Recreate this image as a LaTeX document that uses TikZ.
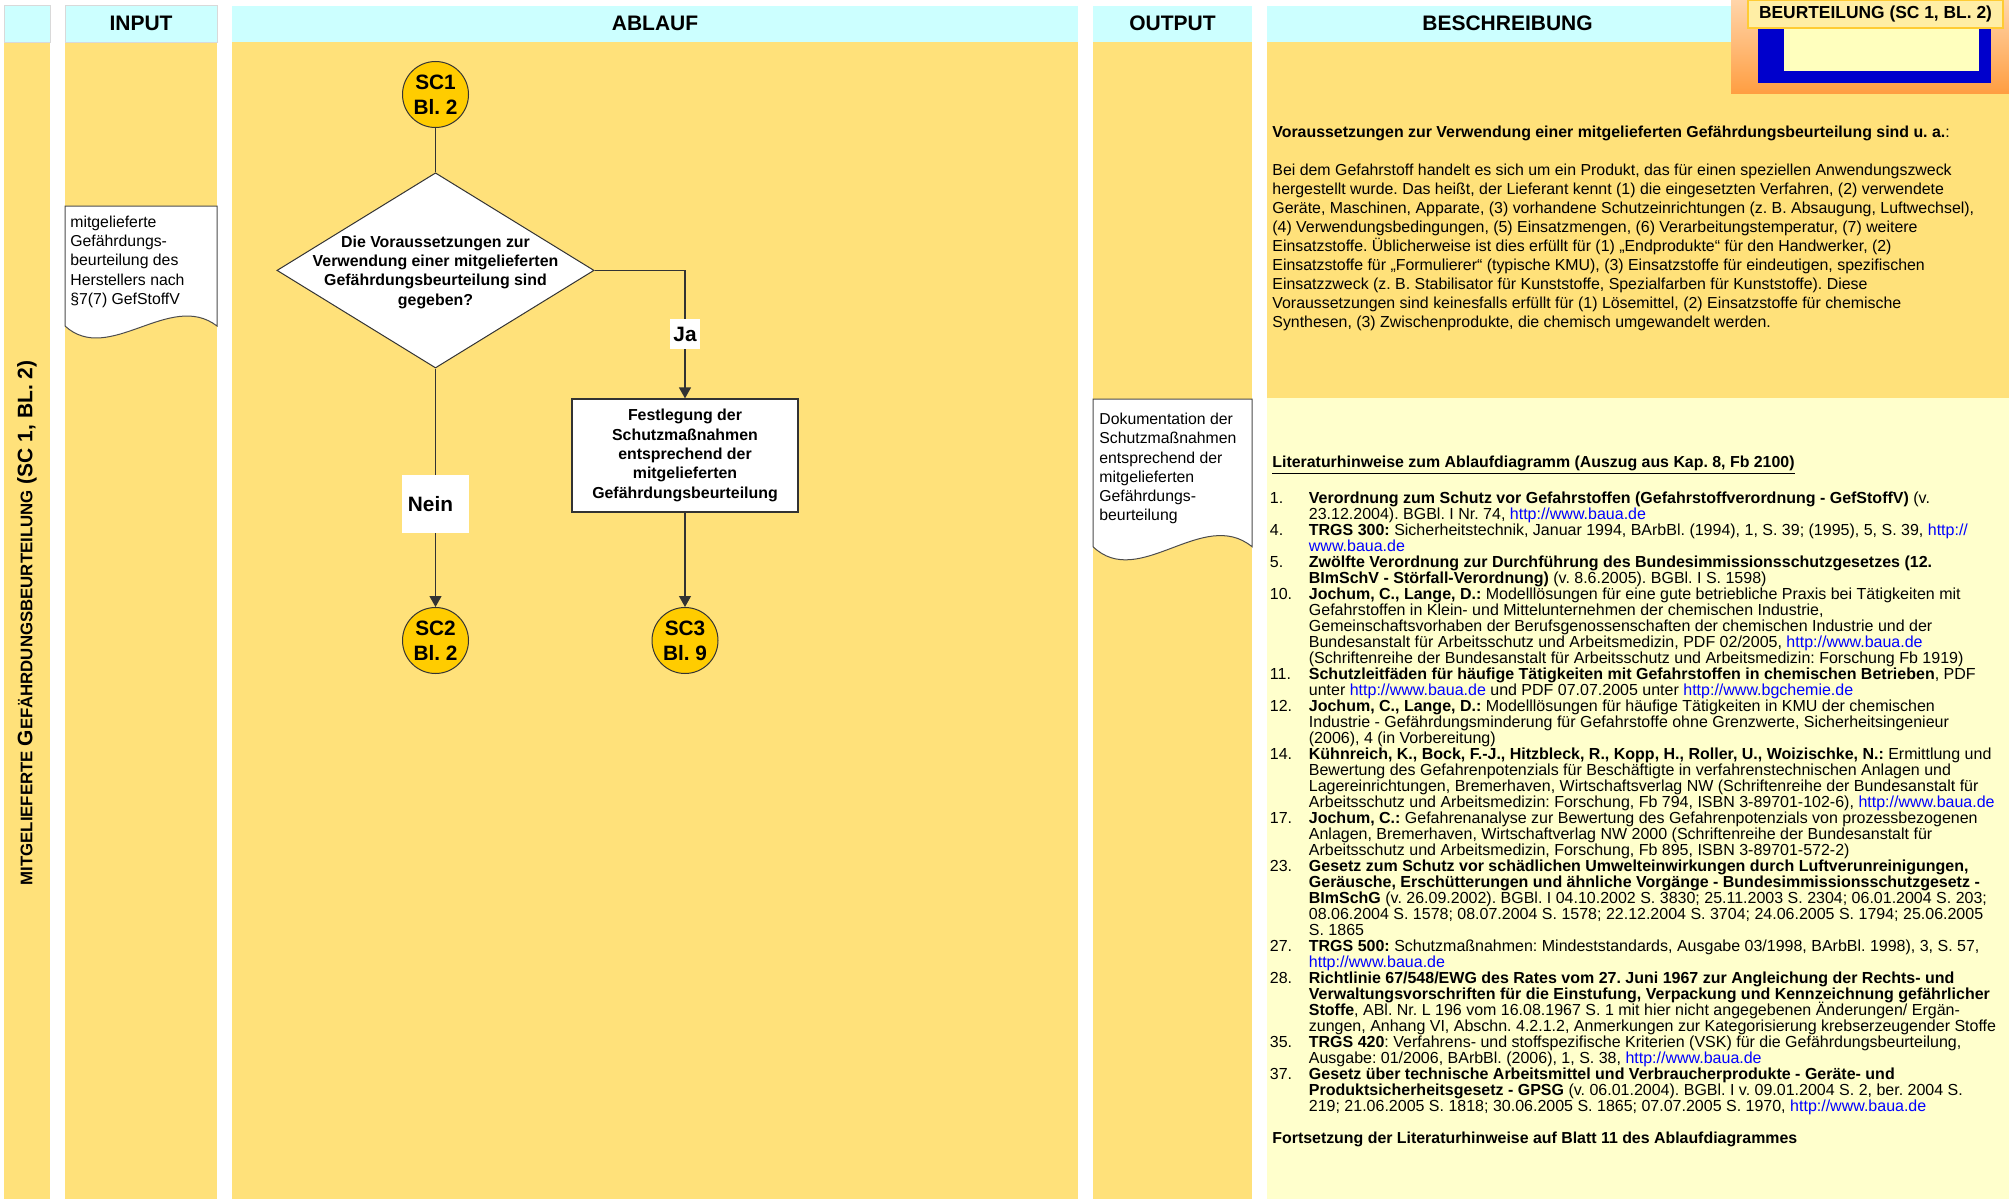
\documentclass[tikz,border=0pt]{standalone}
\usepackage{fontspec}
\setmainfont{Liberation Sans}
\usetikzlibrary{shapes.geometric,arrows.meta}
\frenchspacing
\definecolor{colY}{RGB}{255,225,122}
\definecolor{colHead}{RGB}{204,255,255}
\definecolor{colLight}{RGB}{255,255,204}
\definecolor{colCirc}{RGB}{255,204,0}
\definecolor{colLink}{RGB}{0,0,255}
\definecolor{colBlue}{RGB}{0,0,204}
\definecolor{colLabel}{RGB}{255,238,165}
\definecolor{colLabelBorder}{RGB}{255,204,51}
\definecolor{colInner}{RGB}{255,255,190}
\definecolor{colOrTop}{RGB}{255,213,170}
\definecolor{colOrBot}{RGB}{255,158,66}
\newcommand{\lnk}[1]{\textcolor{colLink}{#1}}
\newcommand{\litnum}[1]{\makebox[19.5pt][l]{#1}}
\newcommand{\litind}{\makebox[19.5pt][l]{}}
\newcommand{\litfont}{\fontsize{8}{8}\selectfont\frenchspacing\lineskiplimit=-20pt\relax}
\newcommand{\descfont}{\fontsize{7.95}{9.55}\selectfont\frenchspacing\lineskiplimit=-20pt\relax}
\newcommand{\docfont}{\fontsize{7.9}{9.65}\selectfont\frenchspacing\lineskiplimit=-20pt\relax}
\newcommand{\smcap}[1]{{\fontsize{8.4}{10}\selectfont #1}}
\begin{document}
\begin{tikzpicture}[x=0.5pt,y=-0.5pt,
  headtext/.style={inner sep=0pt, font=\bfseries\fontsize{10.5}{12}\selectfont},
  conn/.style={circle, fill=colCirc, draw=black!80, line width=0.5pt, minimum size=33pt, inner sep=0pt, align=center, font=\bfseries\fontsize{10.4}{12.5}\selectfont},
  decision/.style={diamond, fill=white, draw=black!80, line width=0.5pt, minimum width=158.6pt, minimum height=97.6pt, inner sep=0pt},
  process/.style={rectangle, fill=white, draw=black!80, line width=0.6pt, minimum width=113pt, minimum height=56.5pt, inner sep=0pt, align=center, font=\bfseries\fontsize{7.95}{9.7}\selectfont},
  flowtext/.style={align=center, inner sep=0pt, font=\bfseries\fontsize{7.95}{9.65}\selectfont},
  doctext/.style={align=left, inner sep=0pt, font=\docfont},
  docshape/.style={fill=white, draw=black!70, line width=0.5pt},
  flowline/.style={draw=black!80, line width=0.6pt},
  flowarrow/.style={flowline, -{Triangle[width=6pt,length=5.5pt]}},
  edgelabel/.style={fill=white, inner sep=0pt, font=\bfseries\fontsize{10.4}{12}\selectfont},
  sheetlabel/.style={fill=colLabel, draw=colLabelBorder, line width=0.6pt, minimum width=127.5pt, minimum height=14pt, inner sep=0pt, font=\bfseries\fontsize{8.7}{10}\selectfont},
  desctext/.style={align=left, inner sep=0pt, font=\descfont},
  littext/.style={align=left, inner sep=0pt, font=\litfont}
]
\useasboundingbox (0,0) rectangle (2009,1199);
\fill[white] (0,0) rectangle (2009,1199);
% lanes
\fill[colY] (4,42) rectangle (50,1199);
\fill[colY] (65,42) rectangle (217,1199);
\fill[colY] (232,42) rectangle (1078,1199);
\fill[colY] (1093,42) rectangle (1252,1199);
\fill[colY] (1267,42) rectangle (2009,398);
\fill[colLight] (1267,398) rectangle (2009,1199);
% header band
\path[fill=colHead, draw=black!15, line width=0.5pt] (4,5.5) rectangle (50,42);
\path[fill=colHead, draw=black!15, line width=0.5pt] (65,5.5) rectangle (217,42);
\fill[colHead] (232,5.5) rectangle (1078,42);
\fill[colHead] (1093,5.5) rectangle (1252,42);
\fill[colHead] (1267,5.5) rectangle (2009,42);
\node[headtext] (hIn) at (141,23.7) {INPUT};
\node[headtext] (hAb) at (655,23.7) {ABLAUF};
\node[headtext] (hOut) at (1172.5,23.7) {OUTPUT};
\node[headtext] (hBes) at (1507.5,23.7) {BESCHREIBUNG};
% sheet marker top right
\shade[top color=colOrTop, bottom color=colOrBot] (1731,0) rectangle (2009,93);
\fill[colBlue] (1758,20) rectangle (1991,83);
\fill[colInner] (1784,20) rectangle (1979,71);
\node[sheetlabel] (sheet) at (1875.5,14) {BEURTEILUNG (SC 1, BL. 2)};
% side label
\node[rotate=90, inner sep=0pt, font=\bfseries\fontsize{10.5}{12}\selectfont] (side) at (27,623)
  {\smcap{MITGELIEFERTE }G\smcap{EFÄHRDUNGSBEURTEILUNG} (SC 1, BL. 2)};
% input document
\draw[docshape] (65,206) -- (217,206) -- (217,326) .. controls (170,290) and (109,366) .. (65,326) -- cycle;
\node[doctext, anchor=north west] (inp) at (70,213.3)
  {\strut mitgelieferte\\Gefährdungs-\\beurteilung des\\Herstellers nach\\§7(7) GefStoffV};
% output document
\draw[docshape] (1093,399) -- (1252,399) -- (1252,546.7) .. controls (1203,506.7) and (1139,590.7) .. (1093,546.7) -- cycle;
\node[doctext, anchor=north west] (outp) at (1099,410.5)
  {\strut Dokumentation der\\Schutzmaßnahmen\\entsprechend der\\mitgelieferten\\Gefährdungs-\\beurteilung};
% flow chart
\node[conn] (sc1) at (435.5,94.5) {SC1\\Bl. 2};
\node[decision] (dec) at (435.5,270.4) {};
\node[flowtext] (dectext) at (435.5,272) {Die Voraussetzungen zur\\Verwendung einer mitgelieferten\\Gefährdungsbeurteilung sind\\gegeben?};
\node[process] (fest) at (685,455.5) {Festlegung der\\Schutzmaßnahmen\\entsprechend der\\mitgelieferten\\Gefährdungsbeurteilung};
\node[conn] (sc2) at (435.5,640.5) {SC2\\Bl. 2};
\node[conn] (sc3) at (685,640.5) {SC3\\Bl. 9};
\draw[flowline] (sc1) -- (dec);
\draw[flowarrow] (dec.east) -| node[edgelabel, pos=0.75, minimum width=15pt, minimum height=15pt] (ja) {Ja} (fest.north);
\draw[flowarrow] (dec.south) -- node[edgelabel, pos=0.568, minimum width=33.5pt, minimum height=29pt] (nein) {Nein\hspace*{5pt}} (sc2.north);
\draw[flowarrow] (fest.south) -- (sc3.north);
% description
\node[anchor=base west, inner sep=0pt, font=\descfont] (dhead) at (1272,137.7)
  {\textbf{Voraussetzungen zur Verwendung einer mitgelieferten Gefährdungsbeurteilung sind u. a.}:};
\node[desctext, anchor=north west] (dbody) at (1272,161.3)
  {\strut Bei dem Gefahrstoff handelt es sich um ein Produkt, das für einen speziellen Anwendungszweck\\
   hergestellt wurde. Das heißt, der Lieferant kennt (1) die eingesetzten Verfahren, (2) verwendete\\
   Geräte, Maschinen, Apparate, (3) vorhandene Schutzeinrichtungen (z. B. Absaugung, Luftwechsel),\\
   (4) Verwendungsbedingungen, (5) Einsatzmengen, (6) Verarbeitungstemperatur, (7) weitere\\
   Einsatzstoffe. Üblicherweise ist dies erfüllt für (1) „Endprodukte“ für den Handwerker, (2)\\
   Einsatzstoffe für „Formulierer“ (typische KMU), (3) Einsatzstoffe für eindeutigen, spezifischen\\
   Einsatzzweck (z. B. Stabilisator für Kunststoffe, Spezialfarben für Kunststoffe). Diese\\
   Voraussetzungen sind keinesfalls erfüllt für (1) Lösemittel, (2) Einsatzstoffe für chemische\\
   Synthesen, (3) Zwischenprodukte, die chemisch umgewandelt werden.};
\node[anchor=base west, inner sep=0pt, font=\descfont] (lhead) at (1272,467.2)
  {\textbf{\underline{Literaturhinweise zum Ablaufdiagramm (Auszug aus Kap. 8, Fb 2100)}}};
\node[littext, anchor=north west] (lit) at (1269.5,491.2)
  {\strut\litnum{1.}\textbf{Verordnung zum Schutz vor Gefahrstoffen (Gefahrstoffverordnung - GefStoffV)} (v.\\
   \litind 23.12.2004). BGBl. I Nr. 74, \lnk{http://www.baua.de}\\
   \litnum{4.}\textbf{TRGS 300:} Sicherheitstechnik, Januar 1994, BArbBl. (1994), 1, S. 39; (1995), 5, S. 39, \lnk{http://}\\
   \litind\lnk{www.baua.de}\\
   \litnum{5.}\textbf{Zwölfte Verordnung zur Durchführung des Bundesimmissionsschutzgesetzes (12.}\\
   \litind\textbf{BImSchV - Störfall-Verordnung)} (v. 8.6.2005). BGBl. I S. 1598)\\
   \litnum{10.}\textbf{Jochum, C., Lange, D.:} Modelllösungen für eine gute betriebliche Praxis bei Tätigkeiten mit\\
   \litind Gefahrstoffen in Klein- und Mittelunternehmen der chemischen Industrie,\\
   \litind Gemeinschaftsvorhaben der Berufsgenossenschaften der chemischen Industrie und der\\
   \litind Bundesanstalt für Arbeitsschutz und Arbeitsmedizin, PDF 02/2005, \lnk{http://www.baua.de}\\
   \litind (Schriftenreihe der Bundesanstalt für Arbeitsschutz und Arbeitsmedizin: Forschung Fb 1919)\\
   \litnum{11.}\textbf{Schutzleitfäden für häufige Tätigkeiten mit Gefahrstoffen in chemischen Betrieben}, PDF\\
   \litind unter \lnk{http://www.baua.de} und PDF 07.07.2005 unter \lnk{http://www.bgchemie.de}\\
   \litnum{12.}\textbf{Jochum, C., Lange, D.:} Modelllösungen für häufige Tätigkeiten in KMU der chemischen\\
   \litind Industrie - Gefährdungsminderung für Gefahrstoffe ohne Grenzwerte, Sicherheitsingenieur\\
   \litind (2006), 4 (in Vorbereitung)\\
   \litnum{14.}\textbf{Kühnreich, K., Bock, F.-J., Hitzbleck, R., Kopp, H., Roller, U., Woizischke, N.:} Ermittlung und\\
   \litind Bewertung des Gefahrenpotenzials für Beschäftigte in verfahrenstechnischen Anlagen und\\
   \litind Lagereinrichtungen, Bremerhaven, Wirtschaftsverlag NW (Schriftenreihe der Bundesanstalt für\\
   \litind Arbeitsschutz und Arbeitsmedizin: Forschung, Fb 794, ISBN 3-89701-102-6), \lnk{http://www.baua.de}\\
   \litnum{17.}\textbf{Jochum, C.:} Gefahrenanalyse zur Bewertung des Gefahrenpotenzials von prozessbezogenen\\
   \litind Anlagen, Bremerhaven, Wirtschaftverlag NW 2000 (Schriftenreihe der Bundesanstalt für\\
   \litind Arbeitsschutz und Arbeitsmedizin, Forschung, Fb 895, ISBN 3-89701-572-2)\\
   \litnum{23.}\textbf{Gesetz zum Schutz vor schädlichen Umwelteinwirkungen durch Luftverunreinigungen,}\\
   \litind\textbf{Geräusche, Erschütterungen und ähnliche Vorgänge - Bundesimmissionsschutzgesetz -}\\
   \litind\textbf{BImSchG} (v. 26.09.2002). BGBl. I 04.10.2002 S. 3830; 25.11.2003 S. 2304; 06.01.2004 S. 203;\\
   \litind 08.06.2004 S. 1578; 08.07.2004 S. 1578; 22.12.2004 S. 3704; 24.06.2005 S. 1794; 25.06.2005\\
   \litind S. 1865\\
   \litnum{27.}\textbf{TRGS 500:} Schutzmaßnahmen: Mindeststandards, Ausgabe 03/1998, BArbBl. 1998), 3, S. 57,\\
   \litind\lnk{http://www.baua.de}\\
   \litnum{28.}\textbf{Richtlinie 67/548/EWG des Rates vom 27. Juni 1967 zur Angleichung der Rechts- und}\\
   \litind\textbf{Verwaltungsvorschriften für die Einstufung, Verpackung und Kennzeichnung gefährlicher}\\
   \litind\textbf{Stoffe}, ABl. Nr. L 196 vom 16.08.1967 S. 1 mit hier nicht angegebenen Änderungen/ Ergän-\\
   \litind zungen, Anhang VI, Abschn. 4.2.1.2, Anmerkungen zur Kategorisierung krebserzeugender Stoffe\\
   \litnum{35.}\textbf{TRGS 420}: Verfahrens- und stoffspezifische Kriterien (VSK) für die Gefährdungsbeurteilung,\\
   \litind Ausgabe: 01/2006, BArbBl. (2006), 1, S. 38, \lnk{http://www.baua.de}\\
   \litnum{37.}\textbf{Gesetz über technische Arbeitsmittel und Verbraucherprodukte - Geräte- und}\\
   \litind\textbf{Produktsicherheitsgesetz - GPSG} (v. 06.01.2004). BGBl. I v. 09.01.2004 S. 2, ber. 2004 S.\\
   \litind 219; 21.06.2005 S. 1818; 30.06.2005 S. 1865; 07.07.2005 S. 1970, \lnk{http://www.baua.de}};
\node[anchor=base west, inner sep=0pt, font=\descfont] (fort) at (1272,1143.5)
  {\textbf{Fortsetzung der Literaturhinweise auf Blatt 11 des Ablaufdiagrammes}};
\end{tikzpicture}
\end{document}
